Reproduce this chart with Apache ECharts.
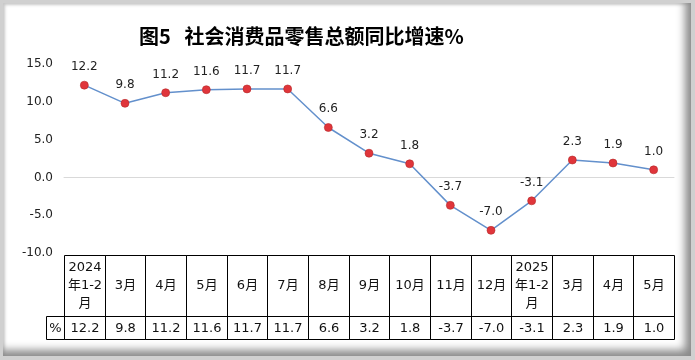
<!DOCTYPE html>
<html>
<head>
<meta charset="utf-8">
<script src="https://cdn.jsdelivr.net/npm/echarts@6/dist/echarts.min.js"></script>
<style>
  html, body { margin: 0; padding: 0; background: #d4d4d4; }
  #frame { position: absolute; left: 0; top: 0; width: 695px; height: 360px; background: #d0d0d0; }
  #paper { position: absolute; left: 3px; top: 3px; width: 688px; height: 353px; background: #fff;
           box-shadow: inset -9px -9px 8px -3px #8a8a8a, inset 2px 2px 3px #c8c8c8; }
  #chart { position: absolute; left: 0; top: 0; width: 695px; height: 360px; }
</style>
</head>
<body>
<div id="frame"><div id="paper"></div></div>
<div id="chart"></div>
<script>
const titleText = '图5   社会消费品零售总额同比增速%';
const categories = ['2024\n年1-2\n月', '3月', '4月', '5月', '6月', '7月', '8月', '9月', '10月', '11月', '12月', '2025\n年1-2\n月', '3月', '4月', '5月'];
const values = [12.2, 9.8, 11.2, 11.6, 11.7, 11.7, 6.6, 3.2, 1.8, -3.7, -7.0, -3.1, 2.3, 1.9, 1.0];
const yMin = -10, yMax = 15, yStep = 5;
const unitLabel = '%';

const FONT = '"DejaVu Sans", "Noto Sans CJK SC", sans-serif';
const chart = echarts.init(document.getElementById('chart'), null, { renderer: 'canvas' });

const tableData = values.map((v, i) => [i, v]);

chart.setOption({
  backgroundColor: 'transparent',
  animation: false,
  title: {
    text: titleText,
    left: 134,
    top: 21,
    textStyle: { fontFamily: '"Noto Sans CJK SC", sans-serif', fontSize: 20, fontWeight: 'bold', color: '#000' }
  },
  grid: { left: 64, right: 21, top: 64, bottom: 107 },
  xAxis: {
    type: 'category',
    data: categories,
    boundaryGap: true,
    axisLine: { show: true, onZero: true, lineStyle: { color: '#d9d9d9', width: 1 } },
    axisTick: { show: false },
    axisLabel: { show: false },
    splitLine: { show: false }
  },
  yAxis: {
    type: 'value',
    min: yMin, max: yMax, interval: yStep,
    axisLine: { show: false },
    axisTick: { show: false },
    splitLine: { show: false },
    axisLabel: {
      margin: 11,
      formatter: v => v.toFixed(1),
      fontFamily: FONT, fontSize: 12, color: '#222'
    }
  },
  series: [
    {
      type: 'line',
      data: values,
      symbol: 'circle',
      symbolSize: 8,
      lineStyle: { color: '#6390cc', width: 1.5 },
      itemStyle: { color: '#e0353b', borderColor: '#b52a2a', borderWidth: 0.6 },
      label: {
        show: true, position: 'top', distance: 8,
        formatter: p => p.value.toFixed(1),
        fontFamily: FONT, fontSize: 12, color: '#222'
      },
      z: 3
    },
    {
      type: 'custom',
      data: tableData,
      encode: { x: 0, y: 1 },
      clip: false,
      silent: true,
      renderItem: function (params, api) {
        const i = api.value(0);
        const base = api.coord([i, yMin]);
        const band = api.size([1, 0])[0];
        const l = Math.round(base[0] - band / 2) + 0.5;
        const r = Math.round(base[0] + band / 2) + 0.5;
        const t = Math.round(base[1]) + 2.5;
        const h1 = 61, h2 = 23;
        const stroke = { fill: 'none', stroke: '#000', lineWidth: 1 };
        const children = [
          { type: 'rect', shape: { x: l, y: t, width: r - l, height: h1 }, style: stroke },
          { type: 'rect', shape: { x: l, y: t + h1, width: r - l, height: h2 }, style: stroke },
          { type: 'text', style: { text: categories[i], x: (l + r) / 2, y: t + h1 / 2, align: 'center', verticalAlign: 'middle',
              fontFamily: FONT, fontSize: 13, lineHeight: 18, fill: '#111' } },
          { type: 'text', style: { text: values[i].toFixed(1), x: (l + r) / 2, y: t + h1 + h2 / 2 + 1, align: 'center', verticalAlign: 'middle',
              fontFamily: FONT, fontSize: 13, fill: '#111' } }
        ];
        if (i === 0) {
          children.push(
            { type: 'rect', shape: { x: l - 18, y: t + h1, width: 18, height: h2 }, style: stroke },
            { type: 'text', style: { text: unitLabel, x: l - 9, y: t + h1 + h2 / 2 + 1, align: 'center', verticalAlign: 'middle',
                fontFamily: FONT, fontSize: 13, fill: '#111' } }
          );
        }
        return { type: 'group', children: children };
      },
      z: 2
    }
  ]
});
</script>
</body>
</html>
